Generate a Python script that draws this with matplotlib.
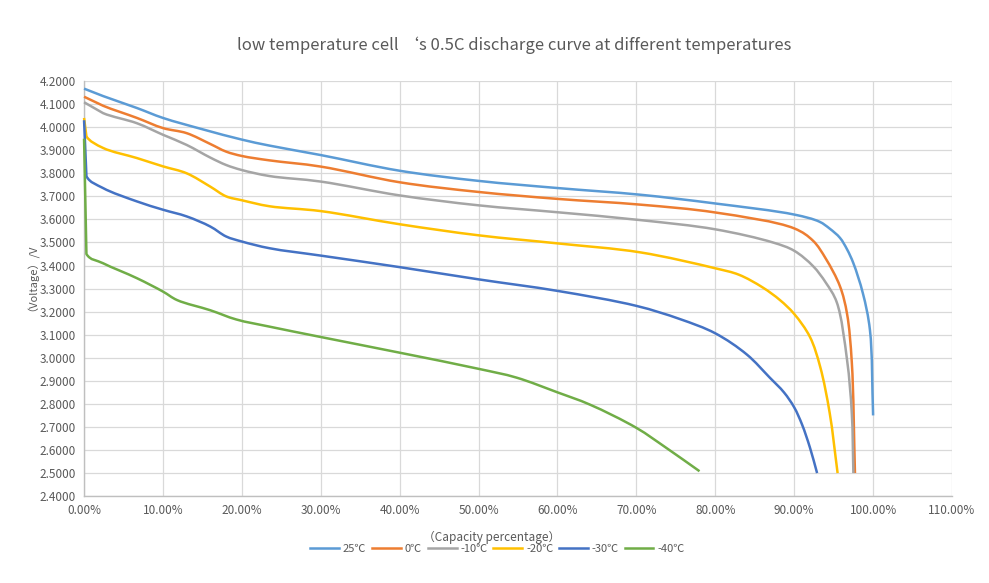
import numpy as np
import matplotlib.pyplot as plt
from matplotlib.lines import Line2D
from matplotlib.patches import PathPatch
from matplotlib.path import Path
from matplotlib.ticker import FuncFormatter, MultipleLocator

plt.rcParams["font.family"] = ["Noto Sans CJK SC", "DejaVu Sans"]

# capacity (%) and voltage (V)
cap_25 = [0, 2.4, 6.7, 10, 15.1, 20, 23.5, 30, 40, 50, 60, 70.5, 80, 90, 93.2, 94.5, 95.8, 96.7, 97.5, 98.7, 99.6, 100]
v_25 = [4.167, 4.135, 4.083, 4.04, 3.99, 3.946, 3.92, 3.879, 3.811, 3.767, 3.736, 3.707, 3.669, 3.621, 3.59, 3.56, 3.52, 3.47, 3.41, 3.28, 3.12, 2.75]

cap_0 = [0, 2.4, 6.7, 10, 13, 16, 18, 20, 23.5, 30, 40, 50, 60, 70.5, 80, 90, 92.4, 94, 95.8, 96.7, 97.3, 97.7]
v_0 = [4.132, 4.093, 4.04, 3.996, 3.974, 3.927, 3.894, 3.875, 3.856, 3.829, 3.761, 3.719, 3.689, 3.664, 3.63, 3.561, 3.507, 3.43, 3.31, 3.19, 2.98, 2.50]

cap_10 = [0, 2.4, 6.7, 10, 13, 16, 18, 20, 23.5, 30, 40, 50, 60, 70.5, 80, 87.3, 90, 92.4, 94, 95.4, 96.7, 97.3, 97.5]
v_10 = [4.108, 4.061, 4.017, 3.967, 3.923, 3.868, 3.836, 3.814, 3.788, 3.764, 3.704, 3.661, 3.631, 3.597, 3.557, 3.50, 3.464, 3.397, 3.326, 3.24, 2.99, 2.76, 2.50]

cap_20 = [0, 0.3, 2.4, 6.7, 10, 13, 16, 18, 20, 23.5, 30, 40, 50, 60, 70.5, 80, 83, 86, 88.2, 90, 92, 93.3, 94.5, 95.5]
v_20 = [4.04, 3.96, 3.91, 3.866, 3.83, 3.80, 3.742, 3.70, 3.683, 3.657, 3.636, 3.579, 3.531, 3.496, 3.457, 3.388, 3.36, 3.305, 3.25, 3.19, 3.09, 2.96, 2.76, 2.50]

cap_30 = [0, 0.3, 2.4, 6.7, 10, 13, 16, 18, 20, 23.5, 30, 40, 50, 60, 70, 75.5, 80, 84, 86.9, 88.7, 90, 91, 92, 92.9]
v_30 = [4.03, 3.787, 3.736, 3.678, 3.642, 3.613, 3.569, 3.526, 3.504, 3.475, 3.443, 3.393, 3.34, 3.29, 3.225, 3.168, 3.106, 3.014, 2.914, 2.85, 2.785, 2.71, 2.61, 2.50]

cap_40 = [0, 0.3, 2.4, 6.7, 10, 11.8, 16, 19.3, 23.5, 30, 40, 50, 54.8, 60, 64.1, 70, 73.8, 78]
v_40 = [3.95, 3.45, 3.41, 3.345, 3.287, 3.25, 3.206, 3.166, 3.135, 3.09, 3.022, 2.952, 2.914, 2.85, 2.797, 2.696, 2.609, 2.508]

labels = ["25℃", "0℃", "-10℃", "-20℃", "-30℃", "-40℃"]
colors = ["#5B9BD5", "#ED7D31", "#A5A5A5", "#FFC000", "#4472C4", "#70AD47"]
series = [(cap_25, v_25), (cap_0, v_0), (cap_10, v_10), (cap_20, v_20), (cap_30, v_30), (cap_40, v_40)]

# rough px per data unit, only used to make the smoothing look even on screen
SX, SY = 7.89, 230.6


def smooth_path(x, y):
    # centripetal catmull-rom -> bezier segments (Excel-like smoothed line)
    # first segment stays straight (the steep initial drop)
    p = np.column_stack([np.asarray(x, float) * SX, np.asarray(y, float) * SY])
    n = len(p)
    verts = [p[0], p[1]]
    codes = [Path.MOVETO, Path.LINETO]
    for i in range(1, n - 1):
        p0, p1, p2, p3 = p[i - 1], p[i], p[i + 1], p[min(i + 2, n - 1)]
        d1 = np.linalg.norm(p1 - p0) ** 0.5
        d2 = np.linalg.norm(p2 - p1) ** 0.5
        d3 = np.linalg.norm(p3 - p2) ** 0.5
        b1 = (d1**2 * p2 - d2**2 * p0 + (2 * d1**2 + 3 * d1 * d2 + d2**2) * p1) / (3 * d1 * (d1 + d2))
        if d3 < 1e-9:
            b2 = p2 - (p2 - p1) / 3
        else:
            b2 = (d3**2 * p1 - d2**2 * p3 + (2 * d3**2 + 3 * d3 * d2 + d2**2) * p2) / (3 * d3 * (d3 + d2))
        verts += [b1, b2, p2]
        codes += [Path.CURVE4] * 3
    verts = np.array(verts) / [SX, SY]
    return Path(verts, codes)


fig = plt.figure(figsize=(9.89, 5.83), dpi=100)
ax = fig.add_axes([0.085, 0.149, 0.8776, 0.712])

handles = []
for (x, y), lab, c in zip(series, labels, colors):
    ax.add_patch(PathPatch(smooth_path(x, y), fill=False, edgecolor=c, lw=1.8,
                           capstyle="butt", joinstyle="round", zorder=3, clip_on=False))
    handles.append(Line2D([], [], color=c, lw=1.8, label=lab))

ax.set_xlim(0, 110)
ax.set_ylim(2.4, 4.2)
ax.xaxis.set_major_locator(MultipleLocator(10))
ax.yaxis.set_major_locator(MultipleLocator(0.1))
ax.xaxis.set_major_formatter(FuncFormatter(lambda v, p: f"{v:.2f}%"))
ax.yaxis.set_major_formatter(FuncFormatter(lambda v, p: f"{v:.4f}"))
ax.tick_params(length=0, labelsize=8.5, labelcolor="#595959", pad=6)
ax.grid(True, color="#D9D9D9", lw=0.9)
ax.set_axisbelow(True)
for s in ["top", "right"]:
    ax.spines[s].set_visible(False)
for s in ["left", "bottom"]:
    ax.spines[s].set_color("#BFBFBF")
    ax.spines[s].set_linewidth(1.0)

fig.text(0.52, 0.922, "low temperature cell ‘s 0.5C discharge curve at different temperatures",
         ha="center", va="center", fontsize=12, color="#595959")
fig.text(0.497, 0.078, "（Capacity percentage）", ha="center", va="center", fontsize=8.5, color="#595959")
fig.text(0.028, 0.528, "（Voltage）/V", ha="center", va="center", rotation=90, fontsize=8, color="#595959")

fig.legend(handles=handles, loc="center", bbox_to_anchor=(0.503, 0.058), ncol=6, frameon=False,
           fontsize=8, handlelength=2.6, columnspacing=0.5, handletextpad=0.35,
           labelcolor="#595959")

fig.savefig("out.png", dpi=100)
